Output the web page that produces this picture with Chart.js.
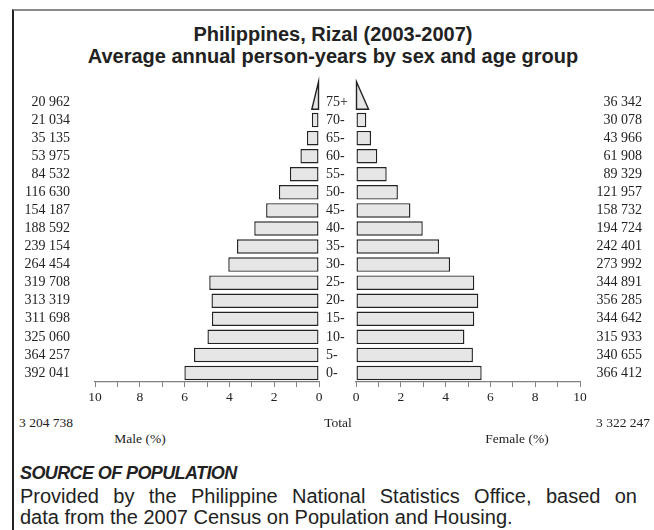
<!DOCTYPE html>
<html>
<head>
<meta charset="utf-8">
<script src="https://cdn.jsdelivr.net/npm/chart.js@4.4.1/dist/chart.umd.min.js"></script>
<style>
  body { margin: 0; width: 654px; height: 530px; position: relative; background: #fff; overflow: hidden; }
  #frame { position: absolute; left: 12px; top: 9px; right: -5px; bottom: -5px; border-top: 2px solid #8a8a8a; border-left: 2px solid #222; }
  .sans { font-family: "Liberation Sans", Arial, sans-serif; color: #222; position: absolute; white-space: nowrap; }
  .serif { font-family: "Liberation Serif", "Times New Roman", serif; color: #222; font-size: 13.5px; position: absolute; white-space: nowrap; }
  #title { left: 12px; width: 642px; top: 23px; text-align: center; font-weight: bold; font-size: 20px; line-height: 22px; }
  #srcHead { left: 20px; top: 461px; font-size: 18px; font-weight: bold; font-style: italic; letter-spacing: -0.6px; line-height: 24px; }
  .srcLine { left: 20px; font-size: 20px; line-height: 21px; }
  #srcLine1 { top: 486px; width: 617px; text-align: justify; text-align-last: justify; white-space: normal; }
  #srcLine2 { top: 507px; }
  canvas { position: absolute; }
</style>
</head>
<body>
<div id="frame"></div>
<div id="title" class="sans">Philippines, Rizal (2003-2007)<br>Average annual person-years by sex and age group</div>

<div style="position:absolute;left:0;top:60px;width:330px;height:350px;"><canvas id="male"></canvas></div>
<div style="position:absolute;left:323px;top:60px;width:331px;height:350px;"><canvas id="female"></canvas></div>

<div class="serif" style="left:19px;top:415px;">3 204 738</div>
<div class="serif" style="left:300px;width:76px;text-align:center;top:415px;">Total</div>
<div class="serif" style="right:4px;top:415px;">3 322 247</div>
<div class="serif" style="left:100px;width:80px;text-align:center;top:431px;">Male (%)</div>
<div class="serif" style="left:472px;width:90px;text-align:center;top:431px;">Female (%)</div>

<div id="srcHead" class="sans">SOURCE OF POPULATION</div>
<div id="srcLine1" class="sans srcLine">Provided by the Philippine National Statistics Office, based on</div>
<div id="srcLine2" class="sans srcLine">data from the 2007 Census on Population and Housing.</div>

<script>
// age groups, top of the pyramid first
const ageGroups = ['75+', '70-', '65-', '60-', '55-', '50-', '45-', '40-', '35-', '30-', '25-', '20-', '15-', '10-', '5-', '0-'];

// person-years
const maleCounts = [20962, 21034, 35135, 53975, 84532, 116630, 154187, 188592, 239154, 264454, 319708, 313319, 311698, 325060, 364257, 392041];
const femaleCounts = [36342, 30078, 43966, 61908, 89329, 121957, 158732, 194724, 242401, 273992, 344891, 356285, 344642, 315933, 340655, 366412];

// share of total population (%)
const malePct = [0.32, 0.32, 0.54, 0.83, 1.30, 1.79, 2.36, 2.89, 3.66, 4.05, 4.90, 4.80, 4.78, 4.98, 5.58, 6.01];
const femalePct = [0.56, 0.46, 0.67, 0.95, 1.37, 1.87, 2.43, 2.98, 3.71, 4.20, 5.28, 5.46, 5.28, 4.84, 5.22, 5.61];

const xTicks = [0, 2, 4, 6, 8, 10];

const serif = '"Liberation Serif", "Times New Roman", serif';
const barFill = '#e6e6e6';
const barLine = '#222222';
const axisGrey = '#808080';

function fmt(n) {
    return String(n).replace(/\B(?=(\d{3})+(?!\d))/g, ' ');
}

// open-ended top group is drawn as a triangle instead of a box
const triangleTop = {
    id: 'triangleTop',
    afterDatasetsDraw(chart) {
        const bar = chart.getDatasetMeta(0).data[0];
        const p = bar.getProps(['x', 'y', 'base', 'height'], true);
        const bottom = p.y + p.height / 2;
        const apex = p.y - p.height / 2 - 13;
        const ctx = chart.ctx;
        ctx.save();
        ctx.beginPath();
        ctx.moveTo(p.base, bottom);
        ctx.lineTo(p.x, bottom);
        ctx.lineTo(p.base, apex);
        ctx.closePath();
        ctx.fillStyle = barFill;
        ctx.fill();
        ctx.lineWidth = 1.4;
        ctx.strokeStyle = barLine;
        ctx.stroke();
        ctx.restore();
    }
};

function xScale(reverse) {
    return {
        type: 'linear',
        min: 0,
        max: 10,
        reverse: reverse,
        afterFit: s => { s.height = 28; },
        ticks: {
            stepSize: 1,
            autoSkip: false,
            maxRotation: 0,
            padding: 2,
            color: '#222',
            font: { family: serif, size: 13.5 },
            callback: v => xTicks.includes(v) ? String(v) : ''
        },
        grid: { drawOnChartArea: false, drawTicks: true, tickLength: 5, color: axisGrey, lineWidth: 1 },
        border: { color: axisGrey, width: 1.2 }
    };
}

function labelAxis(position, labels, width, align, padding) {
    return {
        type: 'category',
        position: position,
        labels: labels,
        afterFit: s => { s.width = width; },
        grid: { display: false },
        border: { display: false },
        ticks: { autoSkip: false, crossAlign: align, padding: padding, color: '#222', font: { family: serif, size: 14 } }
    };
}

function barDataset(values, yAxisID) {
    return {
        data: values,
        yAxisID: yAxisID,
        backgroundColor: ctx => ctx.dataIndex === 0 ? 'rgba(0,0,0,0)' : barFill,
        borderColor: ctx => ctx.dataIndex === 0 ? 'rgba(0,0,0,0)' : barLine,
        borderWidth: 1.4,
        borderSkipped: false,
        barPercentage: 0.8,
        categoryPercentage: 1
    };
}

const common = {
    indexAxis: 'y',
    responsive: true,
    maintainAspectRatio: false,
    animation: false,
    events: [],
    plugins: { legend: { display: false }, tooltip: { enabled: false }, title: { display: false } }
};

new Chart(document.getElementById('male'), {
    type: 'bar',
    data: { labels: ageGroups, datasets: [barDataset(malePct, 'y')] },
    options: Object.assign({}, common, {
        layout: { padding: { top: 33, right: 11, bottom: 0, left: 0 } },
        scales: {
            x: xScale(true),
            y: labelAxis('left', maleCounts.map(fmt), 95, 'near', 17)
        }
    }),
    plugins: [triangleTop]
});

new Chart(document.getElementById('female'), {
    type: 'bar',
    data: { labels: ageGroups, datasets: [barDataset(femalePct, 'y')] },
    options: Object.assign({}, common, {
        layout: { padding: { top: 33, right: 12, bottom: 0, left: 3 } },
        scales: {
            x: xScale(false),
            y: labelAxis('left', ageGroups, 30, 'far', 0),
            y2: labelAxis('right', femaleCounts.map(fmt), 62, 'far', 0)
        }
    }),
    plugins: [triangleTop]
});
</script>
</body>
</html>
